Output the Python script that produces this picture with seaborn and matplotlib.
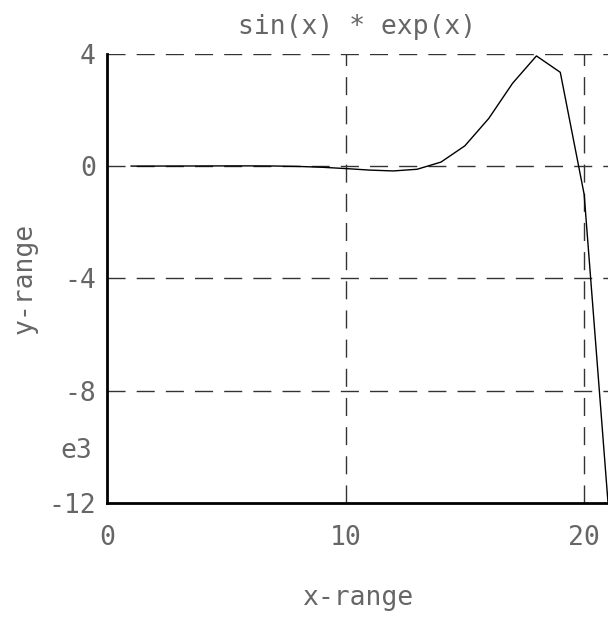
import numpy as np
import pandas as pd
from matplotlib import pyplot as plt
import seaborn as sns

# values, y in thousands (e3)
x_vals = list(range(1, 22))
y_vals = [0.0, 0.0008, 0.0023, 0.0045, 0.0067, 0.0073, 0.0028, -0.0116,
          -0.0413, -0.088, -0.142, -0.173, -0.113, 0.143, 0.721, 1.695,
          2.949, 3.923, 3.339, -1.005, -11.98]
x_ticks = [0, 10, 20]
y_ticks = [4, 0, -4, -8, -12]

df = pd.DataFrame({'x': x_vals, 'y': y_vals})

sns.set_style("white")
plt.rcParams['font.family'] = ['DejaVu Sans Mono']
txt = '#666666'
fs = 19

fig = plt.figure(figsize=(6.08, 6.18), dpi=100)
ax = fig.add_axes([0.176, 0.186, 0.824, 0.727])

sns.lineplot(data=df, x='x', y='y', ax=ax, color='black', linewidth=1)

ax.set_xlim(0, 21)
ax.set_ylim(-12, 4)

# dashed grid lines
for xv in x_ticks[1:]:
    ax.axvline(xv, color='#333333', linestyle=(0, (13, 8)), linewidth=1, zorder=0)
for yv in y_ticks[:-1]:
    ax.axhline(yv, color='#333333', linestyle=(0, (13, 8)), linewidth=1, zorder=0)

for side in ['top', 'right']:
    ax.spines[side].set_visible(False)
for side in ['left', 'bottom']:
    ax.spines[side].set_linewidth(2)
    ax.spines[side].set_color('black')

ax.set_xticks(x_ticks)
ax.set_xticklabels([str(v) for v in x_ticks], fontsize=fs, color=txt)
ax.set_yticks(y_ticks)
ax.set_yticklabels([str(v) for v in y_ticks], fontsize=fs, color=txt)
ax.tick_params(direction='in', length=6, width=1.5, pad=8)
ax.tick_params(axis='x', pad=16)

ax.set_xlabel('x-range', fontsize=fs, color=txt)
ax.set_ylabel('y-range', fontsize=fs, color=txt)
ax.xaxis.set_label_coords(0.5, -0.212)
ax.xaxis.label.set_va('center')
ax.yaxis.set_label_coords(-0.164, 0.5)
ax.yaxis.label.set_va('center')
ax.set_title('sin(x) * exp(x)', fontsize=fs, color=txt, pad=14)
ax.text(-0.03, 0.116, 'e3', transform=ax.transAxes, fontsize=fs, color=txt,
        ha='right', va='center')

plt.savefig('out.png', dpi=100)
